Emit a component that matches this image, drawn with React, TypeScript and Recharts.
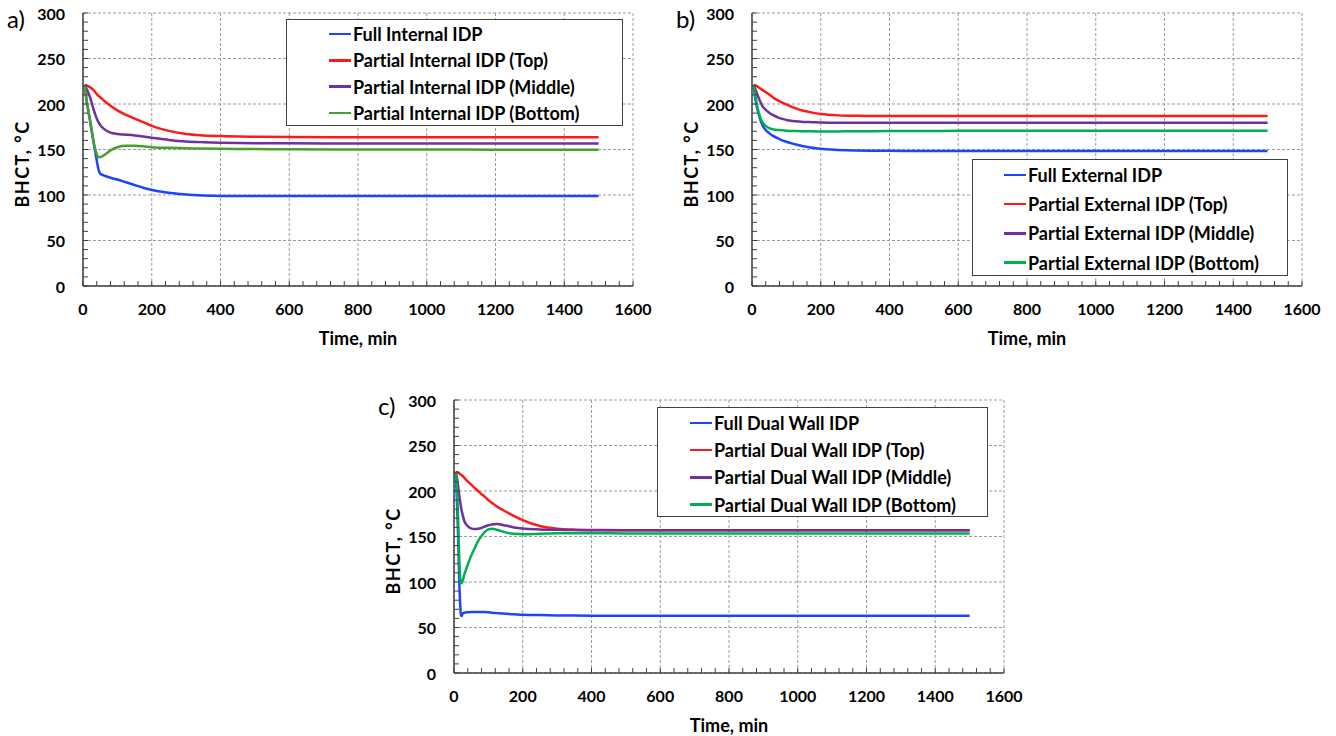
import { LineChart, Line, XAxis, YAxis, CartesianGrid, Legend, Label } from 'recharts';

const FONT = 'Lato, "Open Sans", sans-serif';
const AXIS = '#404040';

const xTicks = [0, 200, 400, 600, 800, 1000, 1200, 1400, 1600];
const yTicks = [0, 50, 100, 150, 200, 250, 300];
const xMinor = Array.from({ length: 41 }, (_, i) => i * 40);
const yMinor = Array.from({ length: 31 }, (_, i) => i * 10);

// a) internal IDP
const timeA = [5, 10, 20, 30, 40, 45, 50, 60, 80, 100, 125, 150, 175, 200, 250, 300, 350, 400, 500, 600, 800, 1000, 1200, 1500];
const fullInternal = [221, 205, 183, 160, 138, 128, 123.5, 121.5, 119, 117, 114, 111, 108, 105.5, 102.5, 100.5, 99.5, 99, 98.8, 98.8, 98.8, 98.8, 98.8, 98.8];
const topInternal = [221, 220.5, 218.5, 215.5, 211, 209, 207.5, 204, 198, 193, 188, 184, 180, 176, 170.5, 167, 165.5, 164.7, 164, 163.7, 163.5, 163.5, 163.5, 163.5];
const middleInternal = [221, 217, 208, 195, 184, 180, 177, 173, 168.5, 167, 166.3, 165.5, 164.3, 163, 160.5, 158.8, 158, 157.5, 157, 156.8, 156.7, 156.7, 156.7, 156.7];
const bottomInternal = [221, 205, 183, 160, 145, 141.5, 141.5, 143.5, 149, 152.5, 154, 154, 153.5, 152.5, 151.8, 151.3, 151, 150.8, 150.5, 150.3, 150, 150, 149.8, 149.8];

// b) external IDP
const timeB = [5, 10, 20, 30, 40, 50, 60, 80, 100, 125, 150, 175, 200, 250, 300, 400, 500, 600, 800, 1000, 1200, 1500];
const fullExternal = [221, 205, 188, 177, 171.5, 168, 165.3, 161.5, 158.5, 155.8, 153.5, 152, 150.7, 149.5, 148.9, 148.5, 148.4, 148.4, 148.4, 148.4, 148.4, 148.4];
const topExternal = [221, 220.5, 218, 215.5, 213, 210.5, 207.5, 203, 199.5, 195.5, 192.5, 190.5, 189, 187.5, 187, 186.8, 186.7, 186.7, 186.7, 186.7, 186.7, 186.7];
const middleExternal = [221, 216, 206, 198, 193.5, 190.5, 188, 184.5, 182.5, 181, 180.3, 180, 179.6, 179.3, 179.3, 179.4, 179.5, 179.5, 179.5, 179.5, 179.5, 179.5];
const bottomExternal = [221, 208, 190, 180, 176, 173.5, 172.3, 171.3, 170.7, 170.3, 170, 170, 169.8, 169.9, 170, 170.3, 170.4, 170.5, 170.5, 170.5, 170.5, 170.5];

// c) dual wall IDP
const timeC = [5, 8, 12, 15, 18, 20, 22, 25, 30, 40, 50, 60, 70, 80, 90, 100, 110, 125, 150, 175, 200, 250, 300, 350, 400, 500, 600, 800, 1000, 1200, 1500];
const fullDual = [221, 195, 150, 105, 75, 64, 62.5, 65, 66.3, 66.8, 67, 67, 67, 67, 66.9, 66.7, 66.3, 65.8, 65, 64.5, 64, 63.6, 63.3, 63.1, 63, 63, 63, 63, 63, 63, 63];
const topDual = [221, 221, 220.5, 219.5, 218.5, 218, 217.3, 216.5, 214.5, 210.5, 207, 203.5, 200, 196.5, 193.5, 190, 187, 183, 177.5, 172.5, 168, 161.5, 158.5, 157.5, 157.2, 157, 157, 157, 157, 157, 157];
const middleDual = [221, 216, 205, 196, 188, 183, 179, 174, 167, 161.5, 159, 158.3, 158.5, 159.5, 161, 162.3, 163.2, 163.8, 162, 160, 158.8, 157.8, 157.3, 157.1, 157, 157, 157, 157, 157, 157, 157];
const bottomDual = [221, 205, 170, 130, 105, 99, 98.5, 101, 108, 119, 129, 137, 145, 150.5, 155, 157.8, 158.5, 157.5, 154.5, 153, 152.5, 153, 153.5, 153.5, 153.5, 153.4, 153.3, 153.3, 153.3, 153.3, 153.3];

const BLUE = '#1f44ff';
const RED = '#ff1a1a';
const PURPLE = '#7030a0';
const GREEN_A = '#45a22d';
const GREEN = '#00b050';

type Series = { name: string; color: string; values: number[] };

const ML = 83;
const MT = 13;
const PLOT_W = 550;
const PLOT_H = 273;
const W = ML + PLOT_W + 20;
const H = MT + PLOT_H + 70;
const GAP = 18; // tickSize + tickMargin
const MINOR = 5;

// y tick: label only on the major values, every tick gets an inward minor mark
const YTick = (props: any) => {
  const { x, y, payload } = props;
  const ax = x + GAP;
  return (
    <g>
      <line x1={ax} x2={ax + MINOR} y1={y} y2={y} stroke={AXIS} strokeWidth={1} />
      {payload.value % 50 === 0 && (
        <text x={x} y={y} textAnchor="end" dominantBaseline="central" fill="#000" fontSize={16} fontWeight={700} fontFamily={FONT}>
          {payload.value}
        </text>
      )}
    </g>
  );
};

const XTick = (props: any) => {
  const { x, y, payload } = props;
  const ay = y - GAP;
  return (
    <g>
      <line x1={x} x2={x} y1={ay} y2={ay - MINOR} stroke={AXIS} strokeWidth={1} />
      {payload.value % 200 === 0 && (
        <text x={x} y={y} dy="0.71em" textAnchor="middle" fill="#000" fontSize={16} fontWeight={700} fontFamily={FONT}>
          {payload.value}
        </text>
      )}
    </g>
  );
};

interface PanelProps {
  letter: string;
  left: number;
  top: number;
  time: number[];
  series: Series[];
  legend: { x: number; y: number; w: number; h: number; lineX: number; rowTop: number; rowGap: number };
}

function Panel({ letter, left, top, time, series, legend }: PanelProps) {
  const data = time.map((t, i) => {
    const row: Record<string, number> = { t };
    series.forEach((s, k) => {
      row['s' + k] = s.values[i];
    });
    return row;
  });

  return (
    <div style={{ position: 'absolute', left, top, width: W, height: H, fontVariantLigatures: 'none' }}>
      <LineChart width={W} height={H} data={data} margin={{ top: MT, right: 20, left: ML - 60, bottom: 30 }}>
        <CartesianGrid stroke="#9b9b9b" strokeDasharray="3 2" horizontalValues={yTicks} verticalValues={xTicks} />
        <XAxis
          dataKey="t"
          type="number"
          domain={[0, 1600]}
          ticks={xMinor}
          interval={0}
          height={40}
          tickSize={8}
          tickMargin={10}
          tickLine={false}
          axisLine={{ stroke: AXIS, strokeWidth: 1.5 }}
          tick={XTick}
        >
          <Label
            content={() => (
              <text x={ML + PLOT_W / 2} y={338} textAnchor="middle" dominantBaseline="central" fontFamily={FONT} fontWeight={700} fontSize={18} fill="#000">
                Time, min
              </text>
            )}
          />
        </XAxis>
        <YAxis
          type="number"
          domain={[0, 300]}
          ticks={yMinor}
          interval={0}
          width={60}
          tickSize={8}
          tickMargin={10}
          tickLine={false}
          axisLine={{ stroke: AXIS, strokeWidth: 1.5 }}
          tick={YTick}
        >
          <Label
            content={() => (
              <text x={22} y={164} transform="rotate(-90 22 164)" textAnchor="middle" dominantBaseline="central" fontFamily={FONT} fontWeight={700} fontSize={18} letterSpacing={1.5} fill="#000">
                BHCT, °C
              </text>
            )}
          />
        </YAxis>
        <Legend
          layout="vertical"
          verticalAlign="middle"
          align="center"
          wrapperStyle={{ left: legend.x, top: legend.y, width: legend.w, height: legend.h }}
          content={() => (
            <div
              style={{
                position: 'relative',
                width: legend.w,
                height: legend.h,
                boxSizing: 'border-box',
                border: `1.5px solid ${AXIS}`,
                background: '#fff',
                fontFamily: FONT,
                fontWeight: 700,
                fontSize: 18,
                color: '#000',
                fontVariantLigatures: 'none',
              }}
            >
              {series.map((s, i) => (
                <div
                  key={s.name}
                  style={{
                    position: 'absolute',
                    left: legend.lineX,
                    top: legend.rowTop + i * legend.rowGap - 12,
                    height: 24,
                    display: 'flex',
                    alignItems: 'center',
                    whiteSpace: 'nowrap',
                  }}
                >
                  <span style={{ display: 'inline-block', width: 22, height: 2.5, background: s.color, marginRight: 2 }} />
                  <span>{s.name}</span>
                </div>
              ))}
            </div>
          )}
        />
        {series.map((s, k) => (
          <Line
            key={s.name}
            dataKey={'s' + k}
            name={s.name}
            type="monotone"
            stroke={s.color}
            strokeWidth={2.5}
            dot={false}
            activeDot={false}
            isAnimationActive={false}
          />
        ))}
      </LineChart>
      <div style={{ position: 'absolute', left: 7, top: 4, fontFamily: FONT, fontSize: 24, color: '#000' }}>{letter}</div>
    </div>
  );
}

export default function App() {
  return (
    <div style={{ position: 'absolute', left: 0, top: 0, width: 1336, height: 736, background: '#fff' }}>
      <Panel
        letter="a)"
        left={0}
        top={0}
        time={timeA}
        series={[
          { name: 'Full Internal IDP', color: BLUE, values: fullInternal },
          { name: 'Partial Internal IDP (Top)', color: RED, values: topInternal },
          { name: 'Partial Internal IDP (Middle)', color: PURPLE, values: middleInternal },
          { name: 'Partial Internal IDP (Bottom)', color: GREEN_A, values: bottomInternal },
        ]}
        legend={{ x: 286, y: 19, w: 337, h: 107, lineX: 42, rowTop: 14, rowGap: 26.3 }}
      />
      <Panel
        letter="b)"
        left={669}
        top={0}
        time={timeB}
        series={[
          { name: 'Full External IDP', color: BLUE, values: fullExternal },
          { name: 'Partial External IDP (Top)', color: RED, values: topExternal },
          { name: 'Partial External IDP (Middle)', color: PURPLE, values: middleExternal },
          { name: 'Partial External IDP (Bottom)', color: GREEN, values: bottomExternal },
        ]}
        legend={{ x: 303, y: 159, w: 316, h: 117, lineX: 31, rowTop: 15, rowGap: 29.2 }}
      />
      <Panel
        letter="c)"
        left={371}
        top={387}
        time={timeC}
        series={[
          { name: 'Full Dual Wall IDP', color: BLUE, values: fullDual },
          { name: 'Partial Dual Wall IDP (Top)', color: RED, values: topDual },
          { name: 'Partial Dual Wall IDP (Middle)', color: PURPLE, values: middleDual },
          { name: 'Partial Dual Wall IDP (Bottom)', color: GREEN, values: bottomDual },
        ]}
        legend={{ x: 286, y: 20, w: 331, h: 110, lineX: 32, rowTop: 15, rowGap: 27.2 }}
      />
    </div>
  );
}
